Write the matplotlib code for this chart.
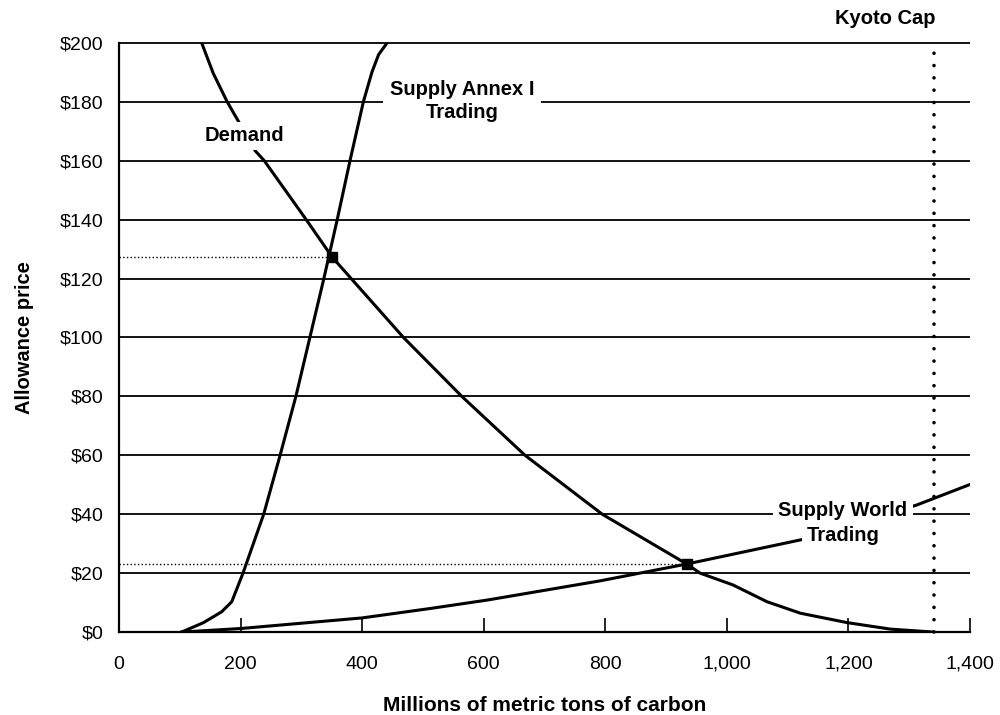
import numpy as np
import matplotlib.pyplot as plt

plt.rcParams['font.family'] = ['Liberation Sans', 'DejaVu Sans']

# Kurven (Mio. t Kohlenstoff, $/t)
demand_x = [136, 155, 178, 195, 224, 239, 308, 351, 382, 468, 564, 668, 795,
            934, 956, 1010, 1066, 1121, 1198, 1269, 1340]
demand_y = [200, 189.7, 180, 173.9, 163.4, 160, 140, 127.2, 120, 100, 80, 60, 40,
            23.1, 20, 16, 10.3, 6.4, 3.2, 1.0, 0]

annex_x = [103, 139, 169, 185.5, 204, 238, 265, 291, 314, 337, 359, 380, 402,
           416, 427, 441]
annex_y = [0, 3.2, 6.9, 10.3, 20, 40, 60, 80, 100, 120, 140, 160, 180,
           190, 196, 200]

world_x = [103, 200, 300, 400, 512, 607, 792, 934, 1126, 1312, 1400]
world_y = [0, 1.2, 3.0, 4.8, 8.0, 10.9, 17.4, 23.1, 31.5, 43.1, 50.1]

# Gleichgewichtspunkte und Kyoto-Grenze
eq_x = [350, 934]
eq_y = [127.2, 23.1]
kyoto_cap = 1340

x_ticks = [0, 200, 400, 600, 800, 1000, 1200, 1400]
x_ticklabels = ['0', '200', '400', '600', '800', '1,000', '1,200', '1,400']
y_ticks = [0, 20, 40, 60, 80, 100, 120, 140, 160, 180, 200]
y_ticklabels = [r'\$' + str(v) for v in y_ticks]

fig = plt.figure(figsize=(10, 7.15), dpi=100)
ax = fig.add_axes([0.119, 0.116, 0.851, 0.824])

# horizontale Linien
ax.hlines(y_ticks[1:], 0, 1400, color='black', linewidth=1.3, zorder=1, clip_on=False)

# gepunktete Hilfslinien
for x, y in zip(eq_x, eq_y):
    ax.plot([0, x], [y, y], color='black', linestyle=':', linewidth=1.0, zorder=2)
ax.plot([kyoto_cap, kyoto_cap], [0, 198], color='black', linewidth=2.6,
        dashes=(0.01, 3.4), dash_capstyle='round', zorder=2, clip_on=False)

# Kurven
ax.plot(demand_x, demand_y, color='black', linewidth=2.2, zorder=3, solid_joinstyle='round')
ax.plot(annex_x, annex_y, color='black', linewidth=2.2, zorder=3, solid_joinstyle='round')
ax.plot(world_x, world_y, color='black', linewidth=2.2, zorder=3, solid_joinstyle='round')
ax.plot(eq_x, eq_y, 's', color='black', markersize=7, zorder=4)

# Beschriftungen
lab = dict(ha='center', va='center', fontsize=14.5, fontweight='bold', zorder=5)
ax.text(207, 168.4, 'Demand', bbox=dict(facecolor='white', edgecolor='none', pad=3), **lab)
ax.text(564, 180.3, 'Supply Annex I\nTrading', linespacing=1.28,
        bbox=dict(facecolor='white', edgecolor='none', pad=5), **lab)
ax.text(1191, 41.1, 'Supply World', bbox=dict(facecolor='white', edgecolor='none', pad=4), **lab)
ax.text(1191, 32.9, 'Trading', bbox=dict(facecolor='white', edgecolor='none', pad=3), **lab)
ax.text(1261, 208.3, 'Kyoto Cap', clip_on=False, **lab)

# Achsen
ax.set_xlim(0, 1400)
ax.set_ylim(0, 200)
ax.set_xticks(x_ticks)
ax.set_xticklabels(x_ticklabels)
ax.set_yticks(y_ticks)
ax.set_yticklabels(y_ticklabels)
ax.tick_params(axis='x', direction='in', length=10, width=1.2, pad=17, labelsize=14)
ax.tick_params(axis='y', length=0, pad=11, labelsize=14)
for side in ['top', 'right']:
    ax.spines[side].set_visible(False)
for side in ['left', 'bottom']:
    ax.spines[side].set_linewidth(1.6)

ax.set_xlabel('Millions of metric tons of carbon', fontsize=15, fontweight='bold')
ax.set_ylabel('Allowance price', fontsize=14.5, fontweight='bold')
ax.xaxis.set_label_coords(0.5, -0.108)
ax.yaxis.set_label_coords(-0.1, 0.5)

plt.savefig('out.png', dpi=100)
